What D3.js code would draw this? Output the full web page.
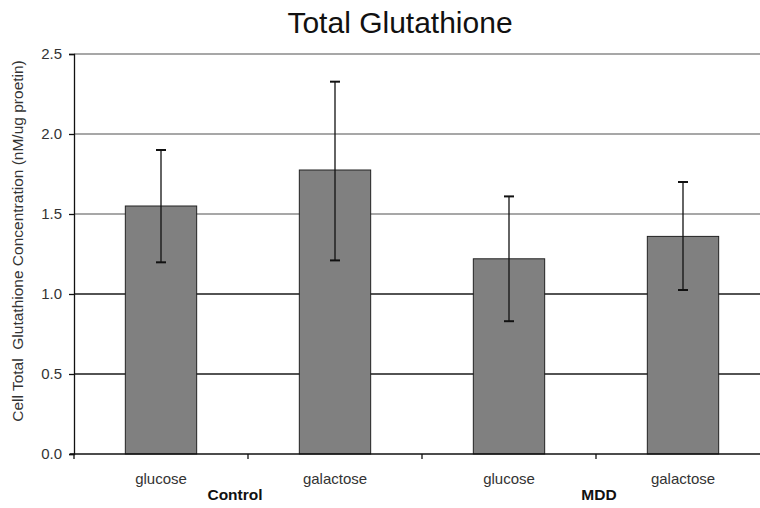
<!DOCTYPE html>
<html><head><meta charset="utf-8">
<script src="https://cdn.jsdelivr.net/npm/d3@7"></script>
<style>body{margin:0;background:#fff}svg{display:block}</style>
</head><body>
<script>
const title = "Total Glutathione";
const yTitle = "Cell Total  Glutathione Concentration (nM/ug proetin)";
const groups = ["Control", "MDD"];
const categories = ["glucose", "galactose", "glucose", "galactose"];
const groupOf = [0, 0, 1, 1];
const means = [1.55, 1.775, 1.22, 1.36];
const errHigh = [1.90, 2.327, 1.61, 1.70];
const errLow = [1.198, 1.21, 0.83, 1.025];
const yTicks = [0, 0.5, 1.0, 1.5, 2.0, 2.5];

const W = 760, H = 508;
const svg = d3.select("body").append("svg").attr("width", W).attr("height", H);
const font = "Liberation Sans, Arial, sans-serif";

const x0 = 74, x1 = 770;
const y = d3.scaleLinear().domain([0, 2.5]).range([454, 54]);
const xb = d3.scaleBand().domain(d3.range(categories.length)).range([x0, x1])
  .paddingInner(0.59).paddingOuter(0.295);
const step = xb.step();

svg.append("g").selectAll("line").data(yTicks.filter(d => d > 0)).join("line")
  .attr("x1", x0).attr("x2", W).attr("y1", d => y(d)).attr("y2", d => y(d))
  .attr("stroke", d => d >= 1.5 ? "#8a8a8a" : "#1a1a1a").attr("stroke-width", 1.3);

svg.append("g").selectAll("rect").data(means).join("rect")
  .attr("x", (d, i) => xb(i)).attr("width", xb.bandwidth())
  .attr("y", d => y(d)).attr("height", d => y(0) - y(d))
  .attr("fill", "#808080").attr("stroke", "#222").attr("stroke-width", 1);

const eg = svg.append("g").attr("stroke", "#111").attr("stroke-width", 1.3);
means.forEach((m, i) => {
  const cx = xb(i) + xb.bandwidth() / 2;
  eg.append("line").attr("x1", cx).attr("x2", cx).attr("y1", y(errHigh[i])).attr("y2", y(errLow[i]));
  [errHigh[i], errLow[i]].forEach(v => {
    eg.append("line").attr("x1", cx - 5).attr("x2", cx + 5).attr("y1", y(v)).attr("y2", y(v)).attr("stroke-width", 2);
  });
});

const yAxis = svg.append("g").attr("transform", `translate(${x0},0)`)
  .call(d3.axisLeft(y).tickValues(yTicks).tickFormat(d3.format(".1f")).tickSize(5).tickPadding(7));
yAxis.select(".domain").attr("stroke", "#111").attr("stroke-width", 1.3);
yAxis.selectAll(".tick line").attr("stroke", "#111").attr("stroke-width", 1.3);
yAxis.selectAll("text").attr("font-family", font).attr("font-size", 15).attr("fill", "#333");

const xAxisG = svg.append("g");
xAxisG.append("line").attr("x1", x0 - 4).attr("x2", W).attr("y1", y(0)).attr("y2", y(0))
  .attr("stroke", "#111").attr("stroke-width", 1.5);
xAxisG.selectAll("line.t").data(d3.range(categories.length + 1)).join("line").attr("class", "t")
  .attr("x1", i => x0 + i * step).attr("x2", i => x0 + i * step)
  .attr("y1", y(0)).attr("y2", y(0) + 5).attr("stroke", "#111").attr("stroke-width", 1.3);

svg.append("g").selectAll("text").data(categories).join("text")
  .attr("x", (d, i) => xb(i) + xb.bandwidth() / 2).attr("y", 484)
  .attr("text-anchor", "middle").attr("font-family", font).attr("font-size", 15)
  .attr("fill", "#333").text(d => d);

svg.append("g").selectAll("text").data(groups).join("text")
  .attr("x", (d, g) => {
    const idx = d3.range(categories.length).filter(i => groupOf[i] === g);
    return x0 + (idx[0] + idx[idx.length - 1] + 1) / 2 * step - (g === 0 ? 13 : -3);
  })
  .attr("y", 500).attr("text-anchor", "middle").attr("font-family", font)
  .attr("font-size", 15.5).attr("font-weight", "bold").attr("fill", "#111").text(d => d);

svg.append("text").attr("transform", `translate(23,${241}) rotate(-90)`)
  .attr("text-anchor", "middle").attr("font-family", font).attr("font-size", 15.5)
  .attr("fill", "#333").style("white-space", "pre").text(yTitle);

svg.append("text").attr("x", 400).attr("y", 33).attr("text-anchor", "middle")
  .attr("font-family", font).attr("font-size", 30).attr("fill", "#111").text(title);
</script>
</body></html>
